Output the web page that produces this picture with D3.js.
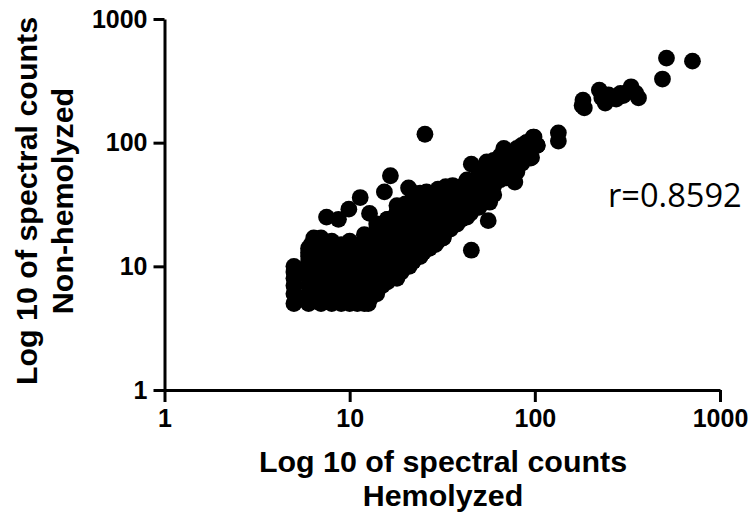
<html>
<head>
	<style>
	body { margin: 0; background: #fff; }
	.axis text { font-family: "Liberation Sans", Arial, sans-serif; font-weight: bold; font-size: 25px; fill: #000; }
	.axis path, .axis line { stroke: #000; stroke-width: 3px; }
	.title { font-family: "Liberation Sans", Arial, sans-serif; font-weight: bold; font-size: 30.4px; text-anchor: middle; }
	</style>
</head>
<body>
<div class="plot"></div>
<script src="https://cdn.jsdelivr.net/npm/d3@7"></script>
<script type="text/javascript">

// values, same order in both arrays
var hemolyzed = [
    5,6,7,8,9,10,11,12,12.6,
    5,6,7,8,9,10,11,12,13,14,
    5,6,7,8,9,10,11,12,13,14,15,
    5,6,7,8,9,10,11,12,13,14,15,16,18,
    5,5.5,6,7,8,9,10,11,12,13,14,15,16,18,19,
    5,6,7,8,9,10,11,12,13,14,15,16,18,20,21,
    6,7,8,9,10,11,12,13,14,15,16,18,20,22,
    6,7,8,9,10,11,12,13,14,15,16,18,20,21,22,24,
    6,7,8,9,10,12,14,16,18,20,22,25,
    6,7,8,9,10,12,14,16,18,20,22,25,26,
    6.2,7,8,9,10,12,14,16,18,20,22,25,28,32,
    6.4,7,8,10,12,14,16,18,20,22,25,28,32,
    12,14,16,18,20,22,25,28,32,36,
    14,16,18,20,22,25,28,32,36,40,
    16,18,20,22,25,28,32,36,40,43,
    18,20,22,25,28,32,36,40,45,
    22,24,28,32,36,40,45,50,
    30,36,40,45,50,55,
    36,43,50,55,60,
    50,55,60,65,72,
    55,60,65,72,80,
    72,80,88,96,
    80,88,96,103,
    90,98,
    // band edges and inside
    14,16,18,20,22,24,28,32,
    26,28,30,32,36,36,36,40,40,43,45,45,45,50,50,50,
    55,55,55,57,60,60,60,63,65,65,68,70,70,70,
    75,75,75,78,80,80,80,85,85,85,90,90,95,95,95,99,103,
    18,20,22,24,26,30,33,18,20,
    21,22,20,18,16,16,13,14,24,27,29,35,38,40,43,
    // loose points
    45.4,16.6,15.4,11.4,9.9,7.5,8.7,12.8,20.8,45.4,56,25.5,
    134,134,182,180,185,223,240,230,250,265,275,290,300,320,331,363,350,514,710,489
];
var nonHemolyzed = [
    5,5,5,5,5,5,5,5,5,
    6,6,6,6,6,6,6,6,6,6,
    7,7,7,7,7,7,7,7,7,7,7,
    8,8,8,8,8,8,8,8,8,8,8,8,8,
    9,5.5,9,9,9,9,9,9,9,9,9,9,9,9,9,
    10,10,10,10,10,10,10,10,10,10,10,10,10,10,10,
    11,11,11,11,11,11,11,11,11,11,11,11,11,11,
    12,12,12,12,12,12,12,12,12,12,12,12,12,12,12,13,
    13,13,13,13,13,13,13,13,13,13,13,13,
    14,14,14,14,14,14,14,14,14,14,14,14,14,
    15,15,15,15,15,15,15,15,15,15,15,15,15,17,
    17,17,16,16,16,16,16,16,16,16,16,16,18,
    18,18,18,18,18,18,18,20,20,22,
    20,20,20,20,20,22,22,24,25,27,
    24,24,24,24,24,25,26,27,28,30,
    27,28,27,27,28,30,32,34,36,
    39,34,32,33,36,38,40,38,
    39,44,44,45,45,48,
    45,50,50,50,55,
    58,62,62,68,72,
    70,72,78,72,80,
    82,76,80,76,
    90,92,92,95,
    100,111,
    // band edges and inside
    22,24,27,30,34,39,38,42,
    14,15,16,17,43,28,22,30,24,27,44,35,27,38,30,42,
    48,40,35,33,55,45,38,62,50,60,90,75,60,52,
    80,65,52,48,85,70,58,95,80,68,100,85,100,90,75,111,95,
    31,32,36,38,40,42,44,27,28,
    11,11,10,9,7.5,8,5.6,6.5,12,14,15,20,22,24,25,
    // loose points
    67,54,40,36,29,25,24,26.8,43,13.5,23.4,117,
    120,103,221,200,191,266,209,230,243,235,225,250,240,260,283,230,252,483,456,327
];
var tickLabels = [1, 10, 100, 1000];
var xLabels = ["Log 10 of spectral counts", "Hemolyzed"];
var yLabels = ["Log 10 of spectral counts", "Non-hemolyzed"];
var note = "r=0.8592";

var width = 754,
    height = 516;

var x = d3.scaleLog().domain([1, 1000]).range([164.5, 720]);
var y = d3.scaleLog().domain([1, 1000]).range([390, 19]);

var svg = d3.select(".plot").append("svg")
    .attr("width", width)
    .attr("height", height)
    .style("display", "block");

// the dots
svg.append("g").selectAll("circle")
    .data(hemolyzed)
    .enter().append("circle")
    .attr("cx", function(d) { return x(d); })
    .attr("cy", function(d, i) { return y(nonHemolyzed[i]); })
    .attr("r", 8.4)
    .attr("fill", "#000");

// add the x Axis
svg.append("g")
    .attr("class", "axis")
    .attr("transform", "translate(0,390)")
    .call(d3.axisBottom(x).tickValues(tickLabels).tickFormat(d3.format("d")).tickSize(12).tickSizeOuter(0).tickPadding(7));

// add the y Axis
svg.append("g")
    .attr("class", "axis")
    .attr("transform", "translate(164.5,0)")
    .call(d3.axisLeft(y).tickValues(tickLabels).tickFormat(d3.format("d")).tickSize(11).tickSizeOuter(0).tickPadding(6));

// axis titles
xLabels.forEach(function(t, i) {
    svg.append("text").attr("class", "title")
        .attr("x", 443).attr("y", 472 + i * 34).text(t);
});
yLabels.forEach(function(t, i) {
    svg.append("text").attr("class", "title")
        .attr("transform", "translate(" + (37 + i * 36) + ",201) rotate(-90)").text(t);
});

svg.append("text")
    .attr("x", 608).attr("y", 207)
    .style("font-family", "'Open Sans', sans-serif")
    .style("font-size", "32.6px")
    .text(note);

</script>
</body>
</html>
